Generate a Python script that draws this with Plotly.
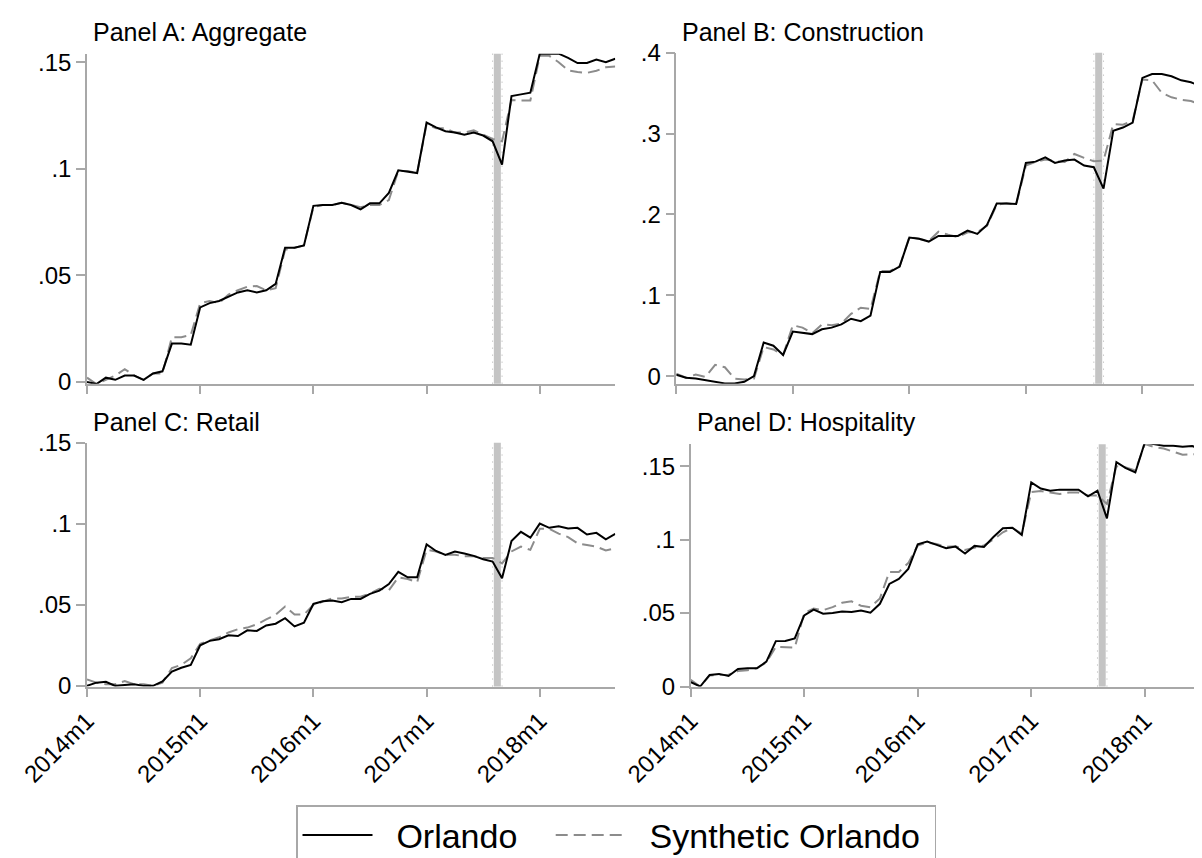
import plotly.graph_objects as go

# ---------------- data ----------------
months = list(range(57))  # 2014m1 ... 2018m9
tick_vals = [0, 12, 24, 36, 48]
tick_text = ["2014m1", "2015m1", "2016m1", "2017m1", "2018m1"]
event_month = 43.5

agg_orlando = [0.000, -0.001, 0.002, 0.001, 0.003, 0.003, 0.001, 0.004, 0.005, 0.018,
               0.018, 0.0175, 0.035, 0.037, 0.038, 0.040, 0.042, 0.043, 0.042, 0.043,
               0.046, 0.063, 0.063, 0.064, 0.0826, 0.083, 0.083, 0.084, 0.083, 0.081,
               0.0838, 0.0838, 0.0887, 0.0993, 0.0988, 0.098, 0.1217, 0.1194, 0.1176, 0.117,
               0.116, 0.117, 0.1156, 0.1129, 0.1019, 0.1341, 0.1349, 0.1357, 0.154, 0.154,
               0.154, 0.152, 0.1496, 0.1496, 0.1512, 0.150, 0.1516]
agg_synth = [0.002, -0.001, 0.001, 0.003, 0.006, 0.003, 0.001, 0.004, 0.004, 0.021,
             0.021, 0.022, 0.037, 0.038, 0.037, 0.041, 0.043, 0.0447, 0.045, 0.043,
             0.044, 0.062, 0.063, 0.064, 0.082, 0.083, 0.083, 0.084, 0.083, 0.082,
             0.083, 0.083, 0.0853, 0.099, 0.099, 0.098, 0.121, 0.119, 0.119, 0.117,
             0.117, 0.118, 0.116, 0.114, 0.1129, 0.1323, 0.132, 0.132, 0.153, 0.153,
             0.150, 0.1462, 0.1454, 0.145, 0.146, 0.1476, 0.148]

con_orlando = [0.0017, -0.002, -0.003, -0.005, -0.007, -0.009, -0.0092, -0.007, 0.000, 0.0417,
               0.0376, 0.0262, 0.0552, 0.0532, 0.052, 0.058, 0.060, 0.064, 0.071, 0.068,
               0.075, 0.129, 0.129, 0.1356, 0.1714, 0.170, 0.1665, 0.1734, 0.1734, 0.1734,
               0.180, 0.176, 0.187, 0.2135, 0.2135, 0.213, 0.2638, 0.2654, 0.2708, 0.2638,
               0.2667, 0.268, 0.2605, 0.2585, 0.232, 0.3035, 0.3076, 0.3138, 0.369, 0.3738,
               0.3738, 0.371, 0.366, 0.3636, 0.3587, 0.3648, 0.370]
con_synth = [0.003, -0.002, 0.002, -0.001, 0.014, 0.011, -0.003, -0.004, -0.003, 0.036,
             0.033, 0.026, 0.063, 0.060, 0.053, 0.064, 0.063, 0.065, 0.077, 0.0847,
             0.083, 0.130, 0.130, 0.136, 0.172, 0.170, 0.167, 0.1787, 0.175, 0.172,
             0.178, 0.178, 0.186, 0.212, 0.214, 0.212, 0.2605, 0.265, 0.268, 0.266,
             0.265, 0.2749, 0.270, 0.266, 0.2667, 0.3117, 0.311, 0.316, 0.367, 0.366,
             0.3505, 0.345, 0.342, 0.3404, 0.336, 0.332, 0.328]

ret_orlando = [0.000, 0.002, 0.0025, 0.000, 0.0006, 0.001, 0.000, 0.000, 0.0027, 0.0088,
               0.0112, 0.0129, 0.0251, 0.0278, 0.0288, 0.0312, 0.0308, 0.0343, 0.0339, 0.0373,
               0.0384, 0.0418, 0.0367, 0.039, 0.0506, 0.0522, 0.0527, 0.0517, 0.0537, 0.0537,
               0.0568, 0.0588, 0.0629, 0.0704, 0.067, 0.067, 0.0874, 0.0833, 0.0809, 0.0829,
               0.0817, 0.0803, 0.0782, 0.0768, 0.0664, 0.0894, 0.0951, 0.0915, 0.1002, 0.0976,
               0.0986, 0.0972, 0.0976, 0.0935, 0.0945, 0.0905, 0.0939]
ret_synth = [0.004, 0.002, 0.001, 0.001, 0.003, 0.001, 0.001, 0.000, 0.002, 0.011,
             0.013, 0.017, 0.026, 0.028, 0.030, 0.033, 0.035, 0.036, 0.038, 0.041,
             0.044, 0.049, 0.044, 0.044, 0.050, 0.052, 0.054, 0.054, 0.055, 0.055,
             0.057, 0.060, 0.059, 0.067, 0.066, 0.064, 0.084, 0.083, 0.081, 0.081,
             0.080, 0.080, 0.079, 0.079, 0.0756, 0.083, 0.086, 0.084, 0.097, 0.097,
             0.094, 0.0919, 0.088, 0.087, 0.086, 0.0836, 0.085]

hos_orlando = [0.003, 0.000, 0.0079, 0.0086, 0.0072, 0.0119, 0.0124, 0.0124, 0.0169, 0.0309,
               0.031, 0.0327, 0.0484, 0.0523, 0.0495, 0.050, 0.0511, 0.0507, 0.0518, 0.0502,
               0.0563, 0.0698, 0.0732, 0.080, 0.0968, 0.0986, 0.0964, 0.0941, 0.0952, 0.0905,
               0.0957, 0.095, 0.1018, 0.1077, 0.1081, 0.1031, 0.1389, 0.1347, 0.1333, 0.134,
               0.134, 0.134, 0.1295, 0.1333, 0.1144, 0.1527, 0.1486, 0.1457, 0.166, 0.1648,
               0.1639, 0.1639, 0.1632, 0.1637, 0.1615, 0.1599, 0.159]
hos_synth = [0.0045, 0.000, 0.0075, 0.008, 0.008, 0.0105, 0.011, 0.0125, 0.0165, 0.027,
             0.027, 0.0265, 0.050, 0.053, 0.052, 0.054, 0.057, 0.058, 0.055, 0.054,
             0.060, 0.078, 0.078, 0.084, 0.096, 0.098, 0.097, 0.095, 0.0955, 0.093,
             0.0945, 0.096, 0.100, 0.105, 0.108, 0.104, 0.1324, 0.133, 0.132, 0.131,
             0.132, 0.132, 0.130, 0.130, 0.1243, 0.150, 0.149, 0.147, 0.165, 0.163,
             0.162, 0.160, 0.1577, 0.158, 0.158, 0.157, 0.157]

titles = ["Panel A: Aggregate", "Panel B: Construction", "Panel C: Retail", "Panel D: Hospitality"]
series = [(agg_orlando, agg_synth), (con_orlando, con_synth),
          (ret_orlando, ret_synth), (hos_orlando, hos_synth)]
ytick_vals = [[0, 0.05, 0.1, 0.15], [0, 0.1, 0.2, 0.3, 0.4],
              [0, 0.05, 0.1, 0.15], [0, 0.05, 0.1, 0.15]]
ytick_text = [["0", ".05", ".1", ".15"], ["0", ".1", ".2", ".3", ".4"],
              ["0", ".05", ".1", ".15"], ["0", ".05", ".1", ".15"]]
y_ranges = [[-0.0008, 0.154], [-0.0093, 0.4002], [-0.0004, 0.1502], [0.0, 0.1649]]
NB = "\u00a0"
legend_names = [NB * 2 + "Orlando" + NB * 3, NB * 2 + "Synthetic Orlando" + NB]

# ---------------- layout geometry (pixels) ----------------
W, H = 1202, 858
# (left px, px per month, top px, bottom px)
geo = [(79.0, 9.433, 46.0, 378.3), (668.3, 9.71, 45.0, 378.3),
       (79.0, 9.433, 437.7, 683.3), (682.7, 9.46, 439.3, 683.3)]

FONT = "Liberation Sans, Arial, Helvetica, sans-serif"
AXIS_COLOR = "#a8a8a8"

fig = go.Figure()
layout = dict(width=W, height=H, margin=dict(l=0, r=0, t=0, b=0),
              template="none", paper_bgcolor="white", plot_bgcolor="white",
              font=dict(family=FONT, color="black", size=24), showlegend=True)

shapes = []
annotations = []
for i in range(4):
    n = "" if i == 0 else str(i + 1)
    xa, ya = "x" + n, "y" + n
    left, ppm, top, bottom = geo[i]
    right = min(W, left + 56 * ppm)
    xmax = (right - left) / ppm
    orl, syn = series[i]
    fig.add_trace(go.Scatter(x=months, y=syn, mode="lines", xaxis=xa, yaxis=ya,
                             name=legend_names[1], legendgroup="s", showlegend=(i == 0),
                             line=dict(color="#8c8c8c", width=2, dash="12px,6px")))
    fig.add_trace(go.Scatter(x=months, y=orl, mode="lines", xaxis=xa, yaxis=ya,
                             name=legend_names[0], legendgroup="o", showlegend=(i == 0),
                             line=dict(color="black", width=2)))
    bottom_row = i >= 2
    layout["xaxis" + n] = dict(
        domain=[left / W, right / W], range=[0, xmax], anchor=ya,
        showline=True, linecolor=AXIS_COLOR, linewidth=1.5, mirror=False,
        ticks="outside", ticklen=9, tickwidth=1.5, tickcolor=AXIS_COLOR,
        tickvals=tick_vals, ticktext=tick_text, showticklabels=bottom_row,
        tickangle=-45, tickfont=dict(size=24, family=FONT),
        showgrid=False, zeroline=False, automargin=False)
    layout["yaxis" + n] = dict(
        domain=[1 - bottom / H, 1 - top / H], range=y_ranges[i], anchor=xa,
        showline=True, linecolor=AXIS_COLOR, linewidth=1.5,
        ticks="outside", ticklen=9, tickwidth=1.5, tickcolor=AXIS_COLOR,
        tickvals=ytick_vals[i], ticktext=ytick_text[i], tickfont=dict(size=24, family=FONT),
        showgrid=False, zeroline=False, automargin=False)
    # event band
    shapes.append(dict(type="line", xref=xa, yref=ya + " domain", x0=event_month, x1=event_month,
                       y0=0, y1=1, line=dict(color="#c4c4c4", width=7), layer="below"))
    for dx in (-0.5, 0.5):
        shapes.append(dict(type="line", xref=xa, yref=ya + " domain",
                           x0=event_month + dx, x1=event_month + dx, y0=0, y1=1,
                           line=dict(color="#b0b0b0", width=1, dash="1px,6px"), layer="below"))
    title_base = 33.3 if i < 2 else 426.0
    annotations.append(dict(text=titles[i], xref="paper", yref="paper",
                            x=(left + 4) / W, y=1 - (title_base - 0.35 * 25) / H,
                            xanchor="left", yanchor="middle", showarrow=False,
                            font=dict(size=25, family=FONT, color="black")))

layout["shapes"] = shapes
layout["annotations"] = annotations
layout["legend"] = dict(orientation="h", x=288 / W, xanchor="left", y=1 - 803 / H, yanchor="top",
                        bordercolor="#a8a8a8", borderwidth=1.5, bgcolor="white",
                        font=dict(size=34, family=FONT, color="black"),
                        traceorder="reversed", itemwidth=70)
fig.update_layout(**layout)
fig.write_html("out.html")
